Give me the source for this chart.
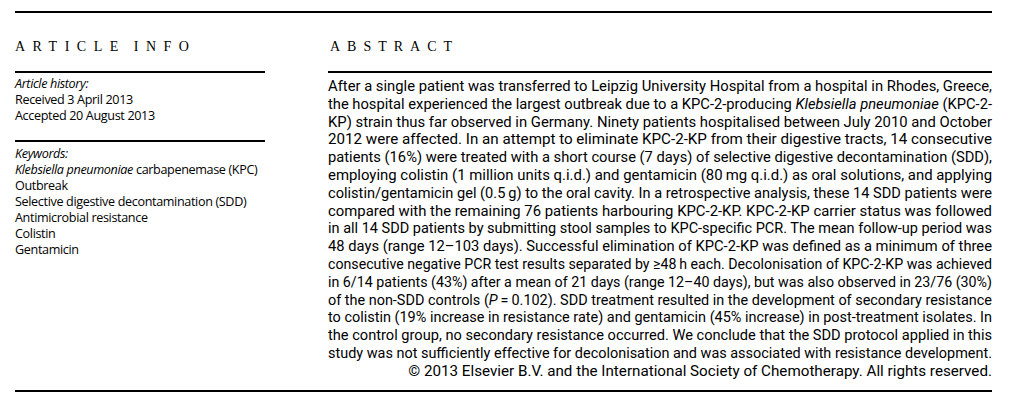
<!DOCTYPE html>
<html>
<head>
<meta charset="utf-8">
<script src="https://cdn.jsdelivr.net/npm/chart.js@4"></script>
<style>
  body { margin: 0; width: 1016px; height: 400px; background: #fff; color: #000; position: relative; overflow: hidden; }
  .rule { position: absolute; height: 1.5px; background: #000; }
  .head { position: absolute; font-family: "Liberation Serif", "DejaVu Serif", serif; font-size: 14px; letter-spacing: 7.5px; word-spacing: -3px; top: 39px; }
  .col { position: absolute; font-family: "Open Sans", "Noto Sans", sans-serif; font-size: 12.6px; letter-spacing: -0.35px; line-height: 16px; white-space: nowrap; }
  .abs { position: absolute; left: 328px; width: 664px; top: 78px; font-family: "Roboto", sans-serif; font-size: 15.2px; line-height: 17.8px; }
  .ln { height: 17.8px; white-space: nowrap; }
  .ln span { display: inline-block; transform-origin: 0 0; }
</style>
</head>
<body>
<div class="rule" style="top:11px;left:15px;width:977px"></div>
<div class="head" style="left:15px">ARTICLE INFO</div>
<div class="head" style="left:330px;letter-spacing:7px">ABSTRACT</div>
<div class="rule" style="top:71px;left:15px;width:250px"></div>
<div class="rule" style="top:140px;left:15px;width:250px"></div>
<div class="rule" style="top:71px;left:328px;width:664px"></div>
<div class="rule" style="top:390px;left:15px;width:977px"></div>
<div class="col" id="history" style="left:15px;top:76px"></div>
<div class="col" id="keywords" style="left:15px;top:146px"></div>
<div class="abs" id="abstract"></div>
<script>
// text content of the page, one entry per printed line
const historyLines = ["<i>Article history:</i>", "Received 3 April 2013", "Accepted 20 August 2013"];
const keywordLines = ["<i>Keywords:</i>", "<i>Klebsiella pneumoniae</i> carbapenemase (KPC)", "Outbreak",
  "Selective digestive decontamination (SDD)", "Antimicrobial resistance", "Colistin", "Gentamicin"];
const abstractLines = [
  "After a single patient was transferred to Leipzig University Hospital from a hospital in Rhodes, Greece,",
  "the hospital experienced the largest outbreak due to a KPC-2-producing <i>Klebsiella pneumoniae</i> (KPC-2-",
  "KP) strain thus far observed in Germany. Ninety patients hospitalised between July 2010 and October",
  "2012 were affected. In an attempt to eliminate KPC-2-KP from their digestive tracts, 14 consecutive",
  "patients (16%) were treated with a short course (7 days) of selective digestive decontamination (SDD),",
  "employing colistin (1 million units q.i.d.) and gentamicin (80\u2009mg q.i.d.) as oral solutions, and applying",
  "colistin/gentamicin gel (0.5\u2009g) to the oral cavity. In a retrospective analysis, these 14 SDD patients were",
  "compared with the remaining 76 patients harbouring KPC-2-KP. KPC-2-KP carrier status was followed",
  "in all 14 SDD patients by submitting stool samples to KPC-specific PCR. The mean follow-up period was",
  "48 days (range 12\u2013103 days). Successful elimination of KPC-2-KP was defined as a minimum of three",
  "consecutive negative PCR test results separated by \u226548\u2009h each. Decolonisation of KPC-2-KP was achieved",
  "in 6/14 patients (43%) after a mean of 21 days (range 12\u201340 days), but was also observed in 23/76 (30%)",
  "of the non-SDD controls (<i>P</i>\u2009=\u20090.102). SDD treatment resulted in the development of secondary resistance",
  "to colistin (19% increase in resistance rate) and gentamicin (45% increase) in post-treatment isolates. In",
  "the control group, no secondary resistance occurred. We conclude that the SDD protocol applied in this",
  "study was not sufficiently effective for decolonisation and was associated with resistance development.",
];
const copyright = "\u00a9 2013 Elsevier B.V. and the International Society of Chemotherapy. All rights reserved.";

document.getElementById("history").innerHTML = historyLines.join("<br>");
document.getElementById("keywords").innerHTML = keywordLines.join("<br>");

const box = document.getElementById("abstract");
const full = 664;

function addLine(txt, justify) {
  const row = document.createElement("div");
  row.className = "ln";
  const s = document.createElement("span");
  s.innerHTML = txt;
  row.appendChild(s);
  box.appendChild(row);
  // squeeze to the column width, then spread the words if there is room
  const w = s.getBoundingClientRect().width;
  const words = txt.split(" ").length - 1;
  if (w > full) {
    s.style.transform = "scaleX(" + (full / w) + ")";
  } else if (justify && words > 0) {
    s.style.wordSpacing = ((full - w) / words) + "px";
  } else if (!justify) {
    s.style.marginLeft = (full - w) + "px";
  }
}
abstractLines.forEach(t => addLine(t, true));
addLine(copyright, false);
</script>
</body>
</html>
